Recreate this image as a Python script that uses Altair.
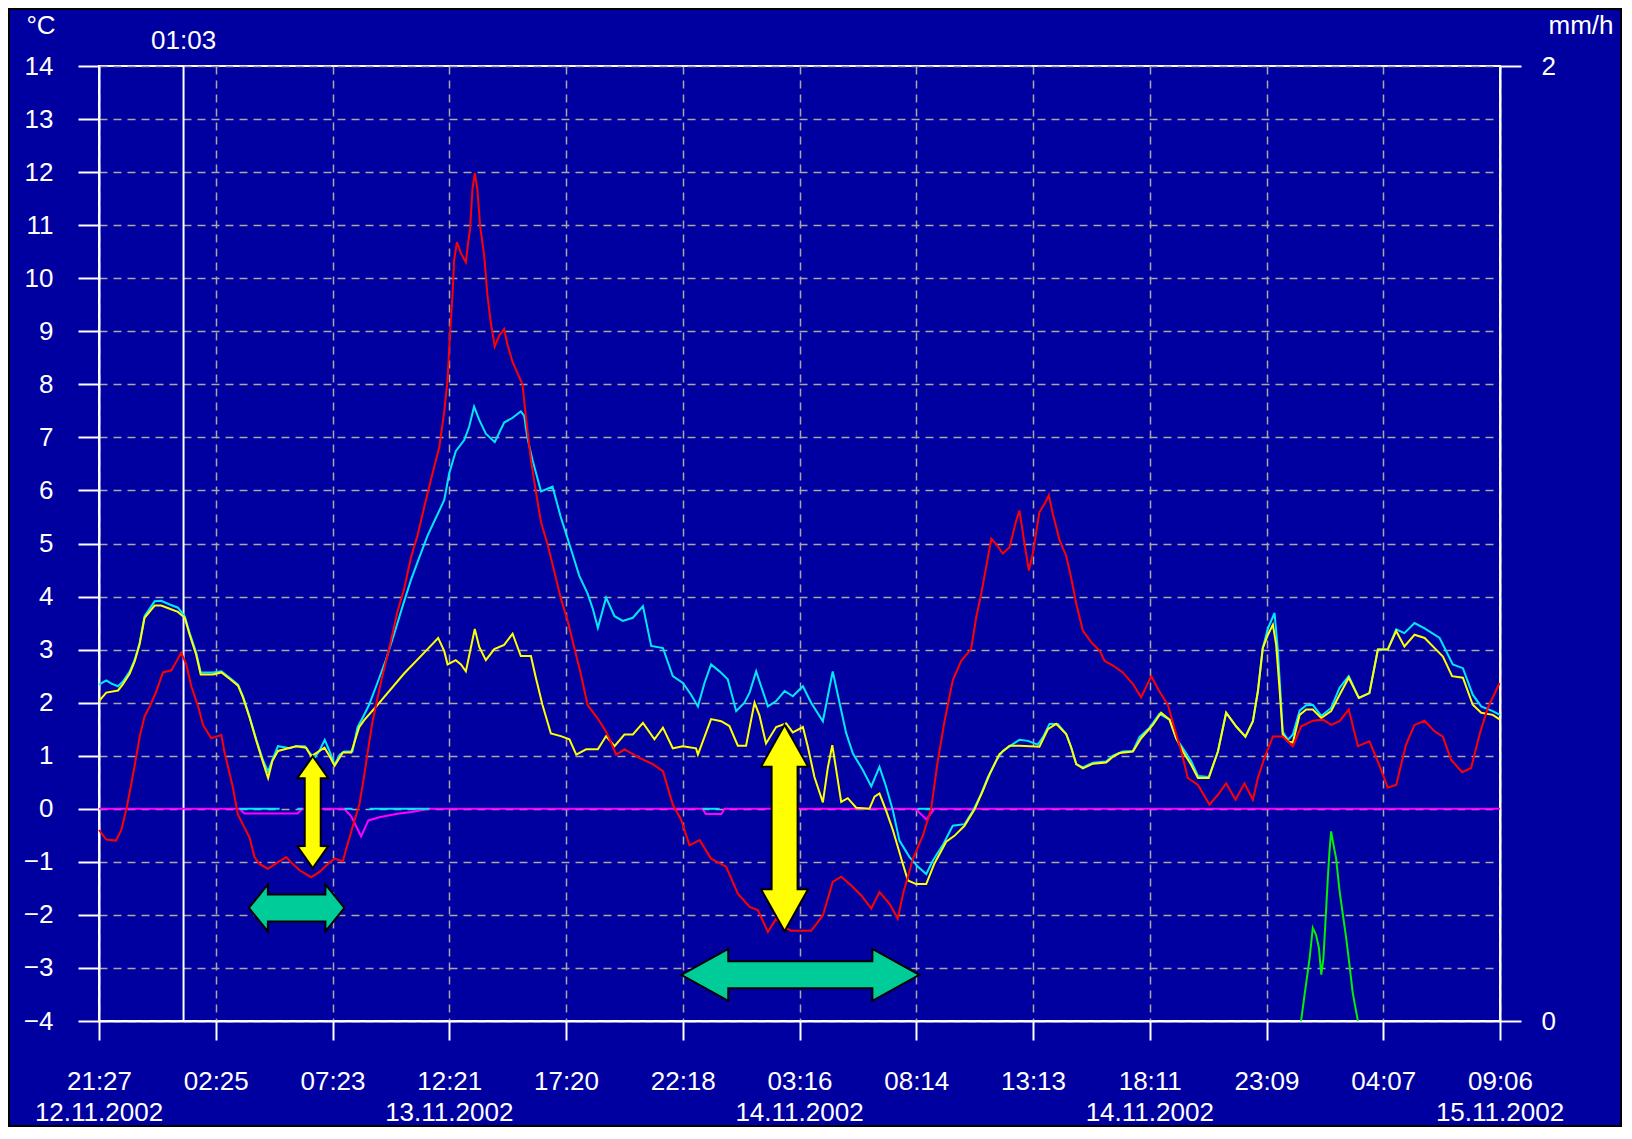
import altair as alt
import pandas as pd

# ---------------- time axis (hours since 21:27, 12.11.2002) ----------------
STEP_H = 298.25 / 60.0          # one grid step = 4 h 58.25 min
N_STEPS = 12
TIME_LABELS = ["21:27", "02:25", "07:23", "12:21", "17:20", "22:18", "03:16",
               "08:14", "13:13", "18:11", "23:09", "04:07", "09:06"]
DATE_TICKS = [0, 3, 6, 9, 12]
DATE_LABELS = ["12.11.2002", "13.11.2002", "14.11.2002", "14.11.2002", "15.11.2002"]
CURSOR_H = [3.6]
CURSOR_LABEL = ["01:03"]

# ---------------- series (°C) ----------------
red_h = [0.00, 0.31, 0.72, 0.95, 1.16, 1.38, 1.59, 1.73, 1.94, 2.16, 2.44, 2.72, 3.08, 3.26, 3.50,
         3.72, 3.93, 4.22, 4.43, 4.78, 4.99, 5.21, 5.35, 5.56, 5.70, 5.91, 6.12, 6.41, 6.62, 6.83,
         7.19, 7.54, 7.97, 8.18, 8.54, 9.03, 9.39, 9.74, 10.03, 10.38, 10.59, 10.81, 11.09, 11.29,
         11.43, 11.64, 12.00, 12.35, 12.71, 12.99, 13.28, 13.56, 13.92, 14.20, 14.49, 14.70, 14.84,
         14.95, 15.05, 15.12, 15.24, 15.41, 15.62, 15.72, 15.80, 15.90, 16.00, 16.11, 16.23, 16.40,
         16.54, 16.68, 16.85, 17.04, 17.25, 17.39, 17.61, 17.82, 18.03, 18.17, 18.39, 18.60, 18.82,
         19.10, 19.38, 19.66, 19.95, 20.23, 20.51, 20.80, 21.22, 21.58, 21.74, 22.02, 22.37, 23.01,
         23.58, 24.01, 24.43, 24.79, 25.14, 25.57, 26.06, 26.70, 27.20, 27.70, 28.05, 28.48, 28.83,
         29.19, 29.47, 30.32, 30.82, 31.24, 31.60, 32.02, 32.45, 32.88, 33.23, 33.66, 34.01, 34.23,
         34.65, 35.08, 35.43, 35.71, 36.00, 36.35, 36.71, 37.13, 37.35, 37.56, 37.77, 37.99, 38.20,
         38.48, 38.77, 39.05, 39.19, 39.41, 39.59, 39.76, 40.04, 40.26, 40.44, 40.61, 40.90, 41.18,
         41.39, 41.61, 41.89, 42.24, 42.60, 42.81, 43.17, 43.59, 44.02, 44.37, 44.80, 45.15, 45.51,
         45.79, 46.08, 46.36, 46.79, 47.28, 47.64, 47.99, 48.39, 48.77, 49.13, 49.34, 49.62, 49.98,
         50.40, 50.83, 51.18, 51.68, 52.11, 52.46, 52.82, 53.21, 53.60, 54.09, 54.45, 54.87, 55.23,
         55.65, 56.01, 56.44, 56.86, 57.22, 57.57, 58.04, 58.42, 58.78, 59.13, 59.63]
red_v = [-0.40, -0.58, -0.60, -0.40, -0.02, 0.48, 0.99, 1.36, 1.74, 1.93, 2.21, 2.57, 2.61, 2.75, 2.94,
         2.72, 2.31, 1.93, 1.58, 1.33, 1.36, 1.39, 1.05, 0.67, 0.40, -0.10, -0.29, -0.54, -0.91, -1.04,
         -1.13, -1.03, -0.91, -1.01, -1.16, -1.29, -1.19, -1.04, -0.94, -0.99, -0.66, -0.32, 0.09, 0.62,
         1.04, 1.63, 2.38, 3.01, 3.72, 4.14, 4.73, 5.15, 5.82, 6.32, 6.82, 7.49, 8.08,
         9.00, 9.67, 10.34, 10.68, 10.47, 10.30, 10.68, 10.93, 11.68, 11.98, 11.68, 10.97, 10.43,
         9.67, 9.17, 8.71, 8.92, 9.04, 8.75, 8.42, 8.21, 8.00, 7.41, 6.57, 5.98, 5.40,
         4.98, 4.48, 3.97, 3.55, 3.05, 2.55, 1.96, 1.71, 1.46, 1.31, 1.02, 1.12, 0.96,
         0.84, 0.71, 0.08, -0.21, -0.69, -0.59, -0.94, -1.09, -1.60, -1.85, -1.91, -2.32, -2.07,
         -2.23, -2.30, -2.30, -2.01, -1.38, -1.28, -1.44, -1.63, -1.88, -1.57, -1.79, -2.07, -1.61,
         -0.95, -0.50, 0.00, 0.90, 1.65, 2.42, 2.79, 3.01, 3.61, 4.05, 4.55, 5.09, 4.99,
         4.81, 4.93, 5.43, 5.62, 4.99, 4.49, 4.81, 5.59, 5.75, 5.91, 5.56, 5.06, 4.77,
         4.36, 3.86, 3.36, 3.14, 2.98, 2.79, 2.70, 2.57, 2.35, 2.10, 2.50, 2.21, 1.96,
         1.52, 1.08, 0.58, 0.45, 0.08, 0.26, 0.48, 0.17, 0.48, 0.17, 0.58, 0.96, 1.36,
         1.36, 1.18, 1.55, 1.66, 1.68, 1.58, 1.65, 1.87, 1.18, 1.27, 0.89, 0.40, 0.45,
         1.21, 1.58, 1.66, 1.46, 1.36, 0.92, 0.69, 0.77, 1.40, 1.90, 2.37]

cyan_h = [0.00, 0.31, 0.53, 0.81, 1.02, 1.31, 1.52, 1.73, 1.94, 2.37, 2.65, 3.01, 3.36, 3.65, 3.86,
          4.14, 4.33, 4.85, 5.21, 5.56, 5.92, 6.13, 6.41, 6.70, 6.98, 7.20, 7.38, 7.62, 8.12, 8.40,
          8.76, 8.97, 9.18, 9.40, 9.61, 9.82, 10.03, 10.25, 10.44, 10.79, 11.01, 11.22, 11.50, 11.86,
          12.21, 12.57, 12.92, 13.28, 13.63, 13.99, 14.34, 14.70, 14.91, 15.19, 15.55, 15.76, 15.97,
          16.19, 16.47, 16.85, 17.25, 17.61, 17.96, 18.10, 18.24, 18.46, 18.82, 19.31, 19.66, 20.09,
          20.45, 20.80, 21.03, 21.24, 21.59, 21.95, 22.30, 22.73, 23.16, 23.51, 24.01, 24.43, 24.86,
          25.21, 25.50, 25.78, 26.06, 26.42, 26.77, 27.13, 27.48, 27.70, 27.98, 28.19, 28.48, 28.83,
          29.19, 29.54, 29.97, 30.32, 30.82, 31.03, 31.24, 31.53, 31.81, 32.10, 32.52, 32.88, 33.23,
          33.51, 33.80, 34.08, 34.51, 34.86, 35.22, 35.50, 35.93, 36.35, 36.85, 37.21, 37.56, 37.84,
          38.20, 38.48, 38.91, 39.19, 39.55, 39.97, 40.19, 40.47, 40.82, 41.18, 41.39, 41.61, 41.89,
          42.32, 42.88, 43.17, 43.59, 44.02, 44.30, 44.73, 45.15, 45.58, 45.86, 46.15, 46.50, 46.79,
          47.25, 47.64, 47.99, 48.42, 48.81, 49.13, 49.34, 49.55, 49.77, 50.05, 50.19, 50.30, 50.40,
          50.62, 50.83, 51.12, 51.40, 51.68, 52.04, 52.46, 52.82, 53.21, 53.64, 54.09, 54.45, 54.87,
          55.23, 55.58, 56.01, 56.44, 57.08, 57.64, 58.07, 58.49, 58.85, 59.34, 59.65]
cyan_v = [2.34, 2.42, 2.36, 2.31, 2.40, 2.59, 2.81, 3.13, 3.63, 3.91, 3.92, 3.85, 3.79, 3.63, 3.31,
          2.94, 2.57, 2.57, 2.59, 2.47, 2.34, 2.12, 1.74, 1.30, 0.92, 0.70, 0.92, 1.18, 1.14, 1.18,
          1.18, 1.05, 0.96, 1.11, 1.30, 1.08, 0.83, 1.02, 1.08, 1.08, 1.54, 1.71, 1.96, 2.38,
          2.80, 3.30, 3.81, 4.31, 4.73, 5.15, 5.48, 5.82, 6.32, 6.74, 6.95, 7.20, 7.58,
          7.33, 7.07, 6.91, 7.28, 7.37, 7.49, 7.41, 6.99, 6.57, 5.98, 6.07, 5.50, 4.90,
          4.39, 4.06, 3.76, 3.41, 3.98, 3.63, 3.54, 3.60, 3.82, 3.07, 3.03, 2.50, 2.37,
          2.15, 1.93, 2.37, 2.72, 2.59, 2.44, 1.84, 2.00, 2.19, 2.59, 2.31, 1.93, 2.03,
          2.22, 2.12, 2.31, 2.00, 1.65, 2.12, 2.59, 2.00, 1.43, 1.04, 0.73, 0.42, 0.79,
          0.42, -0.03, -0.60, -0.91, -1.09, -1.23, -0.98, -0.68, -0.32, -0.29, -0.04, 0.28, 0.59,
          0.91, 1.09, 1.22, 1.30, 1.28, 1.21, 1.35, 1.60, 1.60, 1.41, 1.16, 0.84, 0.78,
          0.87, 0.89, 1.00, 1.08, 1.09, 1.35, 1.53, 1.79, 1.68, 1.33, 1.14, 0.90, 0.62,
          0.60, 1.08, 1.81, 1.55, 1.36, 1.65, 2.21, 3.03, 3.40, 3.69, 3.00, 2.20, 1.45,
          1.30, 1.40, 1.85, 1.95, 1.96, 1.75, 1.90, 2.28, 2.50, 2.09, 2.18, 3.00, 3.00,
          3.38, 3.31, 3.50, 3.40, 3.22, 2.72, 2.65, 2.15, 1.93, 1.84, 1.77]

yellow_h = [0.00, 0.31, 0.81, 1.02, 1.31, 1.52, 1.73, 1.94, 2.37, 2.65, 3.01, 3.36, 3.65, 3.86, 4.14,
            4.33, 4.85, 5.21, 5.56, 5.92, 6.13, 6.41, 6.70, 6.98, 7.20, 7.38, 7.62, 8.39, 8.82, 9.03,
            9.39, 9.60, 9.82, 10.03, 10.38, 10.74, 11.08, 11.29, 11.86, 12.99, 13.99, 14.44, 14.70,
            14.84, 15.19, 15.41, 15.62, 15.80, 16.00, 16.19, 16.47, 16.83, 17.25, 17.61, 17.96, 18.39,
            18.60, 18.88, 19.24, 19.66, 20.03, 20.32, 20.74, 21.24, 21.59, 21.95, 22.37, 22.73, 23.16,
            23.65, 24.01, 24.43, 24.86, 25.42, 25.50, 26.06, 26.49, 26.84, 27.20, 27.55, 27.91, 28.12,
            28.40, 28.83, 29.26, 29.54, 29.97, 30.18, 30.46, 30.82, 31.03, 31.22, 31.39, 31.60, 31.88,
            32.24, 32.80, 33.02, 33.23, 33.51, 33.80, 34.22, 34.44, 34.79, 35.22, 35.57, 36.07, 36.42,
            36.85, 37.28, 37.63, 37.92, 38.34, 38.77, 39.19, 40.04, 40.40, 40.75, 41.18, 41.39, 41.61,
            41.89, 42.32, 42.88, 43.17, 43.45, 44.02, 44.37, 44.87, 45.22, 45.58, 45.86, 46.15, 46.50,
            46.79, 47.25, 47.64, 47.99, 48.42, 48.81, 49.13, 49.34, 49.55, 49.77, 49.98, 50.12, 50.26,
            50.40, 50.62, 50.83, 51.12, 51.40, 51.68, 52.04, 52.46, 52.82, 53.21, 53.64, 54.09, 54.45,
            54.87, 55.23, 55.58, 56.01, 56.44, 56.93, 57.22, 57.61, 58.07, 58.49, 58.85, 59.34, 59.65]
yellow_v = [2.03, 2.19, 2.23, 2.35, 2.55, 2.78, 3.10, 3.60, 3.83, 3.83, 3.77, 3.71, 3.60, 3.28, 2.90,
            2.53, 2.53, 2.57, 2.45, 2.32, 2.10, 1.72, 1.28, 0.88, 0.58, 0.90, 1.09, 1.18, 1.15, 0.99,
            1.09, 1.15, 0.99, 0.81, 1.06, 1.06, 1.54, 1.67, 1.96, 2.55, 3.01, 3.22, 2.97,
            2.72, 2.80, 2.72, 2.59, 2.97, 3.39, 3.05, 2.80, 3.01, 3.09, 3.30, 2.88, 2.88,
            2.47, 1.96, 1.42, 1.37, 1.31, 1.02, 1.12, 1.12, 1.37, 1.18, 1.40, 1.40, 1.62,
            1.31, 1.53, 1.14, 1.18, 1.14, 1.02, 1.69, 1.65, 1.56, 1.19, 1.19, 2.00, 1.76,
            1.23, 1.54, 1.61, 1.44, 1.54, 1.17, 0.60, 0.12, 0.77, 1.20, 0.73, 0.13, 0.20,
            0.02, 0.00, 0.23, 0.29, -0.03, -0.40, -1.03, -1.35, -1.42, -1.42, -1.03, -0.62, -0.51,
            -0.32, -0.01, 0.34, 0.65, 1.03, 1.19, 1.19, 1.17, 1.50, 1.60, 1.41, 1.16, 0.84,
            0.76, 0.85, 0.87, 0.98, 1.05, 1.08, 1.33, 1.58, 1.81, 1.68, 1.33, 1.08, 0.83,
            0.58, 0.58, 1.08, 1.81, 1.55, 1.36, 1.65, 2.21, 3.03, 3.28, 3.47, 3.09, 2.28,
            1.40, 1.27, 1.25, 1.77, 1.87, 1.87, 1.71, 1.84, 2.15, 2.47, 2.09, 2.18, 3.00,
            3.00, 3.35, 3.06, 3.28, 3.22, 3.00, 2.87, 2.50, 2.47, 1.96, 1.81, 1.77, 1.68]

magenta_h = [0.00, 5.98, 6.19, 8.45, 8.66, 10.45, 10.75, 11.16, 11.47, 11.94, 12.65, 13.29, 14.07,
             25.70, 25.83, 26.50, 26.63, 34.76, 35.23, 35.57, 59.65]
magenta_v = [0.00, 0.00, -0.09, -0.09, 0.00, 0.00, -0.15, -0.52, -0.22, -0.16, -0.10, -0.06, 0.00,
             0.00, -0.10, -0.10, 0.00, 0.00, -0.20, 0.00, 0.00]

# short cyan stretches lying on the 0 °C line
cyan0_start = [5.98, 8.45, 10.45, 11.52, 25.70, 34.85]
cyan0_end = [7.69, 8.66, 10.79, 14.07, 26.42, 35.49]

# ---------------- rain (mm/h, right axis) ----------------
rain_h = [51.18, 51.33, 51.54, 51.68, 51.82, 51.94, 52.04, 52.13, 52.22, 52.32, 52.39, 52.46,
          52.56, 52.67, 52.82, 52.96, 53.10, 53.24, 53.38, 53.60]
rain_v = [0.0, 0.055, 0.13, 0.195, 0.18, 0.153, 0.097, 0.13, 0.209, 0.30, 0.355, 0.397,
          0.369, 0.341, 0.272, 0.223, 0.174, 0.118, 0.059, 0.0]

# ---------------- annotation arrows (data anchors) ----------------
varrow_x = [9.10, 29.19]
varrow_top = [0.99, 1.585]
varrow_bot = [-1.12, -2.31]
harrow_left = [6.38, 24.79]
harrow_right = [10.45, 34.93]
harrow_y = [-1.87, -3.13]

# ---------------- layout / style ----------------
W, H = 1401, 955
PAD = {"left": 91, "top": 58, "right": 122, "bottom": 106}
BG = "#0000A0"
FONT = "Liberation Sans"
FS = 26
GRID = "#A8A8A8"
X_MAX = N_STEPS * STEP_H
PX_H = W / X_MAX
PX_T = H / 18.0

C_RED, C_CYAN, C_YEL, C_MAG, C_GRN = "#FF0000", "#00E8FF", "#FFFF00", "#FF00FF", "#00F000"
C_TEAL = "#00CC99"

xscale = alt.Scale(domain=[0, X_MAX], nice=False, zero=False)
yscale = alt.Scale(domain=[-4, 14], nice=False, zero=False)
label_expr = "[" + ",".join(f"'{t}'" for t in TIME_LABELS) + f"][round(datum.value / {STEP_H})]"

x_axis = alt.Axis(values=[k * STEP_H for k in range(N_STEPS + 1)], labelExpr=label_expr, title=None,
                  tickSize=19, tickWidth=2, tickColor="white", domainColor="white", domainWidth=2,
                  labelColor="white", labelFont=FONT, labelFontSize=FS, labelPadding=41,
                  labelBaseline="middle", labelFlush=False, labelOverlap=False, labelBound=False,
                  grid=True, gridColor=GRID, gridDash=[8, 6], gridWidth=1.5)
y_axis = alt.Axis(values=list(range(-4, 15)), title=None, tickSize=21, tickWidth=2, tickColor="white",
                  domainColor="white", domainWidth=2, labelColor="white", labelFont=FONT,
                  labelFontSize=FS, labelPadding=25, labelFlush=False, labelOverlap=False,
                  grid=True, gridColor=GRID, gridDash=[8, 6], gridWidth=1.5)


def X(field):
    return alt.X(field, type="quantitative", scale=xscale, axis=x_axis)


def Y(field):
    return alt.Y(field, type="quantitative", scale=yscale, axis=y_axis)


def series(hs, vs, color):
    df = pd.DataFrame({"h": hs, "v": vs})
    return alt.Chart(df).mark_line(color=color, strokeWidth=2).encode(x=X("h"), y=Y("v"))


# cyan stretches on 0 line
rows = []
for i, (a, b) in enumerate(zip(cyan0_start, cyan0_end)):
    rows += [{"seg": i, "h": a, "v": 0.0}, {"seg": i, "h": b, "v": 0.0}]
cyan0 = alt.Chart(pd.DataFrame(rows)).mark_line(color=C_CYAN, strokeWidth=2).encode(
    x=X("h"), y=Y("v"), detail="seg:N")

# cursor line + label
cur_df = pd.DataFrame({"h": CURSOR_H, "lab": CURSOR_LABEL})
cursor = alt.Chart(cur_df).mark_rule(color="white", strokeWidth=2).encode(x=X("h"))
cursor_txt = alt.Chart(cur_df).mark_text(color="white", font=FONT, fontSize=FS, baseline="middle").encode(
    x=X("h"), y=alt.value(-25), text="lab:N")

# date labels under selected ticks
date_df = pd.DataFrame({"h": [k * STEP_H for k in DATE_TICKS], "lab": DATE_LABELS})
dates = alt.Chart(date_df).mark_text(color="white", font=FONT, fontSize=FS, baseline="middle").encode(
    x=X("h"), y=alt.value(H + 92), text="lab:N")

# unit titles
unit_df = pd.DataFrame({"u": ["°C", "mm/h"], "px": [-58, 1482], "py": [-40, -40]})
units = alt.Chart(unit_df).mark_text(color="white", font=FONT, fontSize=FS, baseline="middle").encode(
    x=alt.X("px:Q", scale=None), y=alt.Y("py:Q", scale=None), text="u:N")


# arrows as filled outlines
def v_arrow(xc, yt, yb, head_w, head_l, shaft_w, color):
    hw, sw, hl, e = head_w / 2 / PX_H, shaft_w / 2 / PX_H, head_l / PX_T, 0.002
    ys = [yb, yb + hl, yb + hl + e, yt - hl - e, yt - hl, yt]
    half = [0, hw, sw, sw, hw, 0]
    df = pd.DataFrame({"t": ys, "x1": [xc - d for d in half], "x2": [xc + d for d in half]})
    return alt.Chart(df).mark_area(orient="horizontal", fill=color, stroke="black", strokeWidth=2,
                                   opacity=1).encode(y=Y("t"), x=X("x1"), x2="x2")


def h_arrow(xl, xr, yc, head_h, head_l, shaft_h, color):
    hh, sh, hl, e = head_h / 2 / PX_T, shaft_h / 2 / PX_T, head_l / PX_H, 0.002
    xs = [xl, xl + hl, xl + hl + e, xr - hl - e, xr - hl, xr]
    half = [0, hh, sh, sh, hh, 0]
    df = pd.DataFrame({"h": xs, "y1": [yc + d for d in half], "y2": [yc - d for d in half]})
    return alt.Chart(df).mark_area(orient="vertical", fill=color, stroke="black", strokeWidth=2,
                                   opacity=1).encode(x=X("h"), y=Y("y1"), y2="y2")


v_sizes = [(31, 22, 16), (47, 42, 26)]
h_sizes = [(47, 19, 27), (52, 47, 27)]
arrows = []
for i in range(2):
    arrows.append(h_arrow(harrow_left[i], harrow_right[i], harrow_y[i], *h_sizes[i], C_TEAL))
    arrows.append(v_arrow(varrow_x[i], varrow_top[i], varrow_bot[i], *v_sizes[i], C_YEL))

# outer frame
frame = alt.Chart(pd.DataFrame({"a": [0]})).mark_rect(fillOpacity=0, stroke="black", strokeWidth=2).encode(
    x=alt.value(-PAD["left"] + 1), x2=alt.value(W + PAD["right"] - 1),
    y=alt.value(-PAD["top"] + 1), y2=alt.value(H + PAD["bottom"] - 1))

temp = alt.layer(
    cursor,
    series(magenta_h, magenta_v, C_MAG),
    cyan0,
    series(cyan_h, cyan_v, C_CYAN),
    series(yellow_h, yellow_v, C_YEL),
    series(red_h, red_v, C_RED),
    *arrows,
    cursor_txt, dates, units, frame,
)

rain = alt.Chart(pd.DataFrame({"h": rain_h, "r": rain_v})).mark_line(color=C_GRN, strokeWidth=2).encode(
    x=X("h"),
    y=alt.Y("r:Q", scale=alt.Scale(domain=[0, 2], nice=False, zero=False),
            axis=alt.Axis(orient="right", values=[0, 1, 2], format="d", title=None, tickSize=21,
                          tickWidth=2, tickColor="white", domainColor="white", domainWidth=2,
                          labelColor="white", labelFont=FONT, labelFontSize=FS, labelPadding=20,
                          labelFlush=False, grid=False)))

chart = alt.layer(temp, rain).resolve_scale(y="independent").properties(
    width=W, height=H, background=BG, padding=PAD,
    autosize=alt.AutoSizeParams(type="none"),
).configure_view(stroke="white", strokeWidth=2)

chart.save("out.html", embed_options={"renderer": "svg", "actions": False})
